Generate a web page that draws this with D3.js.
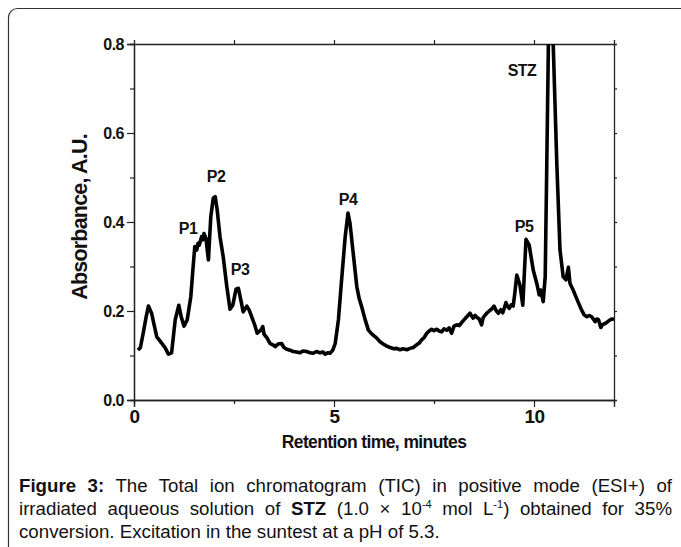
<!DOCTYPE html>
<html>
<head>
<meta charset="utf-8">
<script src="https://cdn.jsdelivr.net/npm/d3@7"></script>
<style>
  body { margin: 0; background: #fff; }
  svg { display: block; }
</style>
</head>
<body>
<div class="container"></div>
<script>
const w = 681
const h = 547
const margin = { left: 134, right: 67, top: 44, bottom: 147 }

// retention time (minutes) and absorbance
const times = [0.10, 0.16, 0.23, 0.30, 0.36, 0.44, 0.50, 0.57, 0.63, 0.69, 0.78, 0.86, 0.94,
  1.03, 1.12, 1.18, 1.25, 1.33, 1.42, 1.47, 1.52, 1.57, 1.60, 1.63, 1.69, 1.72, 1.75, 1.80, 1.86, 1.92, 1.98,
  2.03, 2.08, 2.15, 2.23, 2.32, 2.40, 2.47, 2.55, 2.61, 2.67, 2.73, 2.82, 2.88, 2.95,
  3.02, 3.08, 3.17, 3.22, 3.25, 3.32, 3.40, 3.47, 3.53, 3.60, 3.69, 3.75, 3.82, 3.90, 3.98,
  4.06, 4.15, 4.22, 4.32, 4.40, 4.48, 4.56, 4.65, 4.72, 4.78, 4.84, 4.90, 4.97,
  5.03, 5.11, 5.19, 5.28, 5.35, 5.40, 5.48, 5.57, 5.63, 5.69, 5.78, 5.86, 5.95,
  6.07, 6.15, 6.23, 6.32, 6.40, 6.50, 6.57, 6.65, 6.73, 6.82, 6.90, 6.98,
  7.07, 7.13, 7.19, 7.25, 7.32, 7.38, 7.44, 7.50, 7.57, 7.63, 7.69, 7.75, 7.82, 7.88, 7.94,
  8.00, 8.07, 8.13, 8.19, 8.25, 8.32, 8.40, 8.44, 8.48, 8.53, 8.57, 8.63, 8.69, 8.73, 8.78, 8.83, 8.88, 8.95,
  9.00, 9.06, 9.11, 9.17, 9.22, 9.30, 9.34, 9.38, 9.43, 9.48, 9.52, 9.57, 9.65, 9.72, 9.80, 9.88, 9.93, 9.98,
  10.07, 10.13, 10.17, 10.23, 10.28, 10.32, 10.36, 10.40, 10.45, 10.48, 10.57, 10.65, 10.73, 10.80, 10.86, 10.90, 10.98,
  11.08, 11.19, 11.25, 11.32, 11.38, 11.44, 11.53, 11.57, 11.61, 11.67, 11.72, 11.78, 11.84, 11.90, 11.95, 12.00]

const absorbance = [0.112, 0.118, 0.150, 0.185, 0.211, 0.195, 0.170, 0.142, 0.135, 0.128, 0.117, 0.103, 0.106,
  0.180, 0.213, 0.187, 0.166, 0.180, 0.232, 0.290, 0.345, 0.337, 0.352, 0.348, 0.367, 0.360, 0.374, 0.363, 0.315, 0.412, 0.453,
  0.457, 0.427, 0.367, 0.322, 0.255, 0.204, 0.213, 0.249, 0.251, 0.225, 0.198, 0.211, 0.202, 0.185,
  0.168, 0.150, 0.157, 0.165, 0.148, 0.140, 0.127, 0.124, 0.120, 0.126, 0.127, 0.118, 0.114, 0.112, 0.109,
  0.108, 0.106, 0.110, 0.109, 0.106, 0.105, 0.109, 0.106, 0.108, 0.103, 0.106, 0.105, 0.112,
  0.127, 0.180, 0.270, 0.367, 0.420, 0.397, 0.330, 0.255, 0.228, 0.210, 0.180, 0.157, 0.148,
  0.139, 0.131, 0.126, 0.121, 0.118, 0.115, 0.116, 0.113, 0.115, 0.113, 0.116, 0.118,
  0.124, 0.128, 0.135, 0.140, 0.150, 0.155, 0.159, 0.156, 0.159, 0.155, 0.153, 0.160, 0.157, 0.162, 0.150,
  0.166, 0.169, 0.167, 0.174, 0.180, 0.187, 0.195, 0.189, 0.184, 0.190, 0.186, 0.182, 0.169, 0.185, 0.191, 0.196, 0.200, 0.205,
  0.211, 0.200, 0.195, 0.203, 0.196, 0.219, 0.210, 0.206, 0.214, 0.211, 0.240, 0.281, 0.258, 0.213, 0.361, 0.348, 0.320, 0.292,
  0.262, 0.236, 0.247, 0.221, 0.277, 0.532, 0.800, 0.920, 0.900, 0.800, 0.532, 0.337, 0.277, 0.270, 0.298, 0.262, 0.247,
  0.225, 0.202, 0.192, 0.187, 0.190, 0.187, 0.176, 0.182, 0.181, 0.163, 0.170, 0.172, 0.176, 0.180, 0.182, 0.181]

const peakNames = ["P1", "P2", "P3", "P4", "P5", "STZ"]
const peakTimes = [1.35, 2.05, 2.65, 5.35, 9.75, 9.7]
const peakLevels = [0.372, 0.491, 0.281, 0.438, 0.378, 0.728]

const xTicks = [0, 5, 10]
const xMinorTicks = [2.5, 7.5]
const yTicks = [0.0, 0.2, 0.4, 0.6, 0.8]
const yMinorTicks = [0.1, 0.3, 0.5, 0.7]

const svg = d3.select(".container")
              .append("svg")
              .attr("width", w)
              .attr("height", h)

// outer frame with rounded corner
svg.append("rect")
    .attr("x", 8.5)
    .attr("y", 8.5)
    .attr("width", 700)
    .attr("height", 600)
    .attr("rx", 9)
    .attr("fill", "none")
    .attr("stroke", "#333")
    .attr("stroke-width", 1.2)

const xScale = d3.scaleLinear()
                 .domain([0, 12])
                 .range([margin.left, w - margin.right])
const yScale = d3.scaleLinear()
                 .domain([0, 0.8])
                 .range([h - margin.bottom, margin.top])

const font = "'Liberation Sans', Arial, sans-serif"

const xAxis = d3.axisBottom(xScale).tickValues(xTicks).tickSize(7).tickPadding(3).tickFormat(d3.format("d"))
const xMinor = d3.axisBottom(xScale).tickValues(xMinorTicks).tickSize(4).tickFormat("")
const xTop = d3.axisTop(xScale).tickValues([2.5, 5, 7.5, 10]).tickSize(4).tickFormat("")
const yAxis = d3.axisLeft(yScale).tickValues(yTicks).tickSize(7).tickPadding(3).tickFormat(d3.format(".1f"))
const yMinor = d3.axisLeft(yScale).tickValues(yMinorTicks).tickSize(4).tickFormat("")
const yRight = d3.axisRight(yScale).tickValues(d3.range(1, 8).map(d => d / 10)).tickSize(3).tickFormat("")

function styleAxis(g) {
  g.select(".domain").attr("stroke", "#222").attr("stroke-width", 1.3)
  g.selectAll(".tick line").attr("stroke", "#222").attr("stroke-width", 1.2)
  g.selectAll(".tick text")
    .attr("fill", "#111")
    .style("font-family", font)
    .style("font-weight", "bold")
    .style("font-size", "16px")
    .style("letter-spacing", "-0.5px")
}

svg.append("g")
    .attr("transform", `translate(0, ${h - margin.bottom})`)
    .call(xAxis)
    .call(styleAxis)
    .call(g => g.selectAll(".tick text").style("font-size", "19px"))

svg.append("g")
    .attr("transform", `translate(0, ${h - margin.bottom})`)
    .call(xMinor)
    .call(styleAxis)

svg.append("g")
    .attr("transform", `translate(0, ${margin.top})`)
    .call(xTop)
    .call(styleAxis)

svg.append("g")
    .attr("transform", `translate(${margin.left}, 0)`)
    .call(yAxis)
    .call(styleAxis)

svg.append("g")
    .attr("transform", `translate(${margin.left}, 0)`)
    .call(yMinor)
    .call(styleAxis)

svg.append("g")
    .attr("transform", `translate(${w - margin.right}, 0)`)
    .call(yRight)
    .call(styleAxis)

svg.append("text")
    .attr("x", (margin.left + w - margin.right) / 2)
    .attr("y", 448)
    .attr("text-anchor", "middle")
    .style("font-family", font)
    .style("font-weight", "bold")
    .style("font-size", "17.5px")
    .style("letter-spacing", "-0.6px")
    .attr("fill", "#111")
    .text("Retention time, minutes")

svg.append("text")
    .attr("transform", `translate(79, 217) rotate(-90)`)
    .attr("text-anchor", "middle")
    .attr("dy", "0.35em")
    .style("font-family", font)
    .style("font-weight", "bold")
    .style("font-size", "21.5px")
    .style("letter-spacing", "-0.8px")
    .attr("fill", "#111")
    .text("Absorbance, A.U.")

svg.append("clipPath")
    .attr("id", "plot-clip")
    .append("rect")
      .attr("x", margin.left)
      .attr("y", margin.top)
      .attr("width", w - margin.left - margin.right)
      .attr("height", h - margin.top - margin.bottom)

const trace = times.map((t, i) => [t, absorbance[i]])

const line = d3.line()
               .x(d => xScale(d[0]))
               .y(d => yScale(d[1]))

svg.append("path")
    .datum(trace)
    .attr("clip-path", "url(#plot-clip)")
    .attr("d", line)
    .attr("fill", "none")
    .attr("stroke", "#000")
    .attr("stroke-width", 3.6)
    .attr("stroke-linejoin", "round")

svg.selectAll(".peak-label")
    .data(peakNames)
    .enter()
    .append("text")
      .attr("class", "peak-label")
      .attr("x", (d, i) => xScale(peakTimes[i]))
      .attr("y", (d, i) => yScale(peakLevels[i]))
      .attr("text-anchor", "middle")
      .style("font-family", font)
      .style("font-weight", "bold")
      .style("font-size", "16px")
      .style("letter-spacing", "-0.5px")
      .attr("fill", "#111")
      .text(d => d)

// caption, lines 1 and 2 justified to the full width
const captionLeft = 19
const captionRight = 672
const captionLines = [
  [{ t: "Figure 3:", b: true }, { t: " The Total ion chromatogram (TIC) in positive mode (ESI+) of" }],
  [{ t: "irradiated aqueous solution of " }, { t: "STZ", b: true }, { t: " (1.0 × 10" }, { t: "-4", sup: true },
   { t: " mol L" }, { t: "-1", sup: true }, { t: ") obtained for 35%" }],
  [{ t: "conversion. Excitation in the suntest at a pH of 5.3." }]
]
const captionY = [492, 515, 538]

captionLines.forEach((parts, i) => {
  const txt = svg.append("text")
                 .attr("x", captionLeft)
                 .attr("y", captionY[i])
                 .style("font-family", font)
                 .style("font-size", "18.7px")
                 .attr("fill", "#111")
  parts.forEach((p, j) => {
    const span = txt.append("tspan")
                    .text(p.t)
    if (p.b) span.style("font-weight", "bold")
    if (p.sup) span.attr("dy", -7).style("font-size", "11px")
    else if (j > 0 && parts[j - 1].sup) span.attr("dy", 7)
  })
  if (i < 2) {
    const natural = txt.node().getComputedTextLength()
    const spaces = parts.map(p => p.t).join("").split(" ").length - 1
    txt.style("word-spacing", `${(captionRight - captionLeft - natural) / spaces}px`)
  }
})
</script>
</body>
</html>
